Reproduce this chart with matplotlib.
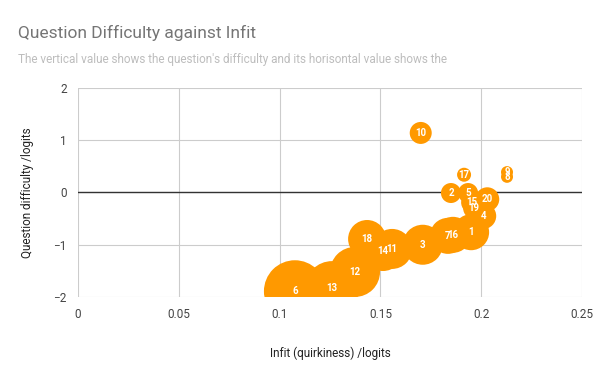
import matplotlib.pyplot as plt

plt.rcParams['font.family'] = ['Roboto', 'DejaVu Sans']

# question id, infit (x), difficulty (y), bubble radius in px
labels = ["10", "17", "9", "8", "2", "5", "20", "15", "19", "4",
          "1", "7", "16", "3", "18", "11", "14", "12", "13", "6"]
infit = [0.170, 0.1915, 0.2128, 0.2128, 0.185, 0.1935, 0.2030, 0.1955, 0.1965, 0.2010,
         0.1950, 0.1835, 0.1860, 0.1710, 0.1434, 0.1558, 0.1513, 0.1374, 0.1260, 0.1076]
difficulty = [1.14, 0.34, 0.39, 0.30, -0.01, -0.01, -0.13, -0.19, -0.30, -0.45,
              -0.76, -0.83, -0.81, -1.00, -0.89, -1.08, -1.12, -1.52, -1.83, -1.89]
radius = [11, 7, 6, 6, 10, 10, 12, 11, 11, 13,
          18, 18, 18, 20, 19, 20, 20, 25, 27, 31]

W, H = 600, 371
fig = plt.figure(figsize=(W / 100, H / 100), dpi=100)
ax = fig.add_axes([78 / W, (H - 297) / H, 504 / W, 209 / H])

sizes = [(2 * r * 0.72) ** 2 for r in radius]
ax.scatter(infit, difficulty, s=sizes, color="#ff9900", linewidths=0, zorder=3)
for lab, x, y in zip(labels, infit, difficulty):
    ax.text(x, y, lab, color="white", fontsize=7, fontweight="bold",
            ha="center", va="center", zorder=4)

ax.set_xlim(0, 0.25)
ax.set_ylim(-2, 2)
ax.set_xticks([0, 0.05, 0.1, 0.15, 0.2, 0.25])
ax.set_xticklabels(["0", "0.05", "0.1", "0.15", "0.2", "0.25"])
ax.set_yticks([-2, -1, 0, 1, 2])
ax.set_axisbelow(True)
ax.grid(True, color="#cccccc", linewidth=0.8)
ax.axhline(0, color="#333333", linewidth=1, zorder=2)
for s in ax.spines.values():
    s.set_visible(False)
ax.tick_params(length=0, labelsize=8.5, labelcolor="#444444", pad=8)

ax.set_xlabel("Infit (quirkiness) /logits", fontsize=8.5, color="#222222", labelpad=18)
ax.set_ylabel("Question difficulty /logits", fontsize=8.5, color="#222222", labelpad=14)

fig.text(18 / W, 1 - 33 / H, "Question Difficulty against Infit", fontsize=12.5,
         color="#757575", va="center", ha="left")
fig.text(18 / W, 1 - 59 / H,
         "The vertical value shows the question's difficulty and its horisontal value shows the",
         fontsize=8.5, color="#bdbdbd", va="center", ha="left")

fig.savefig("out.png", dpi=100)
